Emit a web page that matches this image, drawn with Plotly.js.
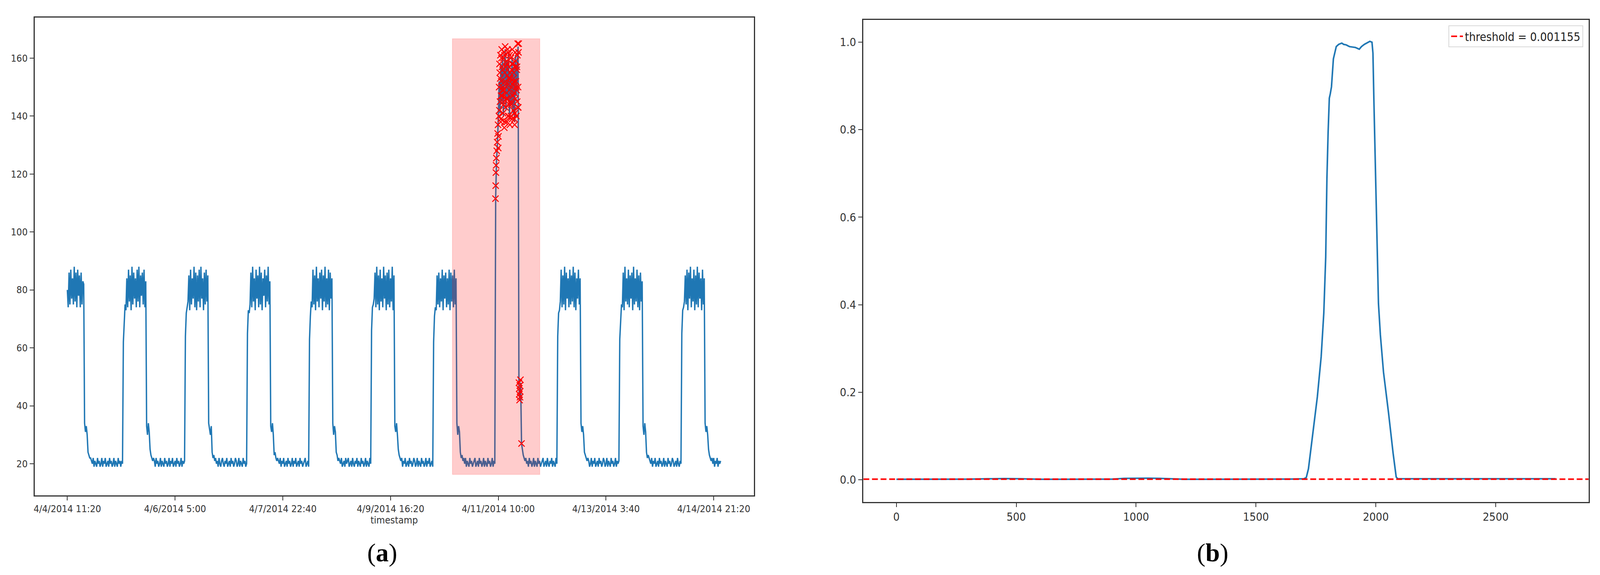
<!DOCTYPE html>
<html><head><meta charset="utf-8">
<script src="https://cdn.plot.ly/plotly-3.0.1.min.js"></script>
<style>html,body{margin:0;padding:0;background:#fff;overflow:hidden}</style>
</head><body><div id="chart"></div>
<script>
// ---------- panel (a): CPU series (one reading every 4th 5-minute record) ----------
const tickLabels = ["4/4/2014 11:20","4/6/2014 5:00","4/7/2014 22:40","4/9/2014 16:20","4/11/2014 10:00","4/13/2014 3:40","4/14/2014 21:20"];
const tickPositions = [0,500,1000,1500,2000,2500,3000];
const sampleStep = 4;

const day0 = [80,74,86,75,87,77,84,75,88,76,86,74,87,78,85,74,86,75,83,82];
const day1 = [34,31,33,30, 24,23,22,22,21,
  20,22,19,21,20,19,22,20,21,19,20,22,
  19,21,20,22,19,20,21,19,22,20,21,19,
  20,22,19,21,20,19,22,20,21,19,21,20,
  62,70,
  75,73,84,74,87,76,85,73,88,75,86,77,84,74,87,76,88,74,85,78,86,75,87,74,83];
const day2 = [33,30,34,31, 25,23,22,21,22,
  21,19,22,20,21,19,20,22,19,21,20,19,
  22,20,21,19,20,22,19,21,20,22,19,20,
  21,19,22,20,21,19,20,22,19,21,20,21,
  64,72,
  74,76,85,73,87,75,84,77,88,74,86,73,85,76,87,74,88,77,84,73,86,75,87,76,85];
const day3 = [34,32,30,33, 24,22,23,21,22,
  20,21,19,22,20,19,21,22,20,19,21,20,
  22,19,20,21,19,22,20,21,19,20,22,21,
  19,20,22,19,21,20,19,22,20,21,19,20,
  65,73,
  72,75,86,74,88,76,84,73,87,77,85,74,88,75,86,73,84,78,87,74,85,76,88,75,83];
const day4 = [33,31,34,30, 23,24,22,21,22,
  21,20,22,19,21,20,22,19,20,21,19,22,
  20,21,19,20,22,19,21,20,22,19,20,21,
  19,22,20,21,19,20,21,22,19,20,21,19,
  63,71,
  76,74,87,75,85,73,88,76,84,74,86,77,87,73,85,76,88,74,84,75,87,73,86,77,84];
const day5 = [34,30,33,31, 24,23,21,22,21,
  20,22,19,20,21,19,22,20,21,22,19,20,
  21,19,22,20,19,21,20,22,19,21,20,19,
  22,20,21,19,20,22,19,21,20,19,22,20,
  66,74,
  75,77,86,74,88,75,85,73,87,76,84,74,88,77,85,73,86,75,87,74,84,76,88,73,85];
const day6 = [33,31,34,30, 25,23,22,21,22,
  19,21,20,22,19,20,21,19,22,20,21,19,
  20,22,21,19,20,22,19,21,20,19,22,20,
  21,19,20,22,19,21,20,22,19,20,21,19,
  62,71,
  74,73,85,75,86,74,84,76,87,73,85,77,86,74,84,75,87,73,86,76,85,74,87,75,84];
const day7 = [34,30,33,31, 24,22,23,21,22,
  20,22,19,21,20,19,22,20,21,19,20,21,
  22,19,20,21,19,22,20,21,19,20,22,19,
  21,20,19,22,20,21,19,20,22,19,21,20,
  112,125,
  130,139,152,141,158,145,161,140,156,163,142,159,146,162,139,155,144,160,141,157,138,161,147,158,164];
const day8 = [46,42,48,27, 25,23,22,21,22,
  20,21,19,22,20,21,19,20,22,19,21,20,
  19,22,20,21,19,20,21,22,19,20,21,19,
  22,20,19,21,20,22,19,21,20,19,22,20,
  64,72,
  73,76,87,74,85,75,88,73,86,77,84,74,87,75,85,76,88,74,86,73,84,77,87,75,84];
const day9 = [34,31,33,30, 24,23,22,21,22,
  21,19,20,22,19,21,20,22,19,20,21,19,
  22,20,21,19,20,22,21,19,20,22,19,21,
  20,19,22,20,21,19,20,22,19,21,20,21,
  63,70,
  75,74,86,73,88,76,84,75,87,74,85,77,86,73,88,75,84,76,87,74,85,73,86,76,83];
const day10 = [33,30,34,31, 24,22,23,22,21,
  20,22,19,21,20,22,19,20,21,19,22,20,
  21,19,20,22,19,21,20,19,22,20,21,19,
  20,22,21,19,20,21,19,22,20,19,21,20,
  65,73,
  74,76,85,75,87,73,86,77,88,74,84,76,87,73,85,75,88,74,86,77,84,73,87,75,84];
const tail = [34,31,33,30, 25,23,22,21,22, 20,22,19,21,20,22,19,21,20,21];

// detected anomalies (record index, value)
const anomIdx = [1987,1988,1989,1990,1991,1993,1995,1997,1999,2000,2001,2003,
  2004,2006,2008,2010,2012,2014,2016,2018,2020,2022,2024,2026,2028,2030,2032,2034,2036,2038,2040,2042,
  2044,2046,2048,2050,2052,2054,2056,2058,2060,2062,2064,2066,2068,2070,2072,2074,2076,2078,2080,2082,
  2084,2086,2088,2090,2092,2094,
  2005,2009,2013,2017,2021,2025,2029,2033,2037,2041,2045,2049,2053,2057,2061,2065,2069,2073,2077,2081,2085,2089,2093,
  2007,2011,2015,2019,2023,2027,2031,2035,2039,2043,2047,2051,2055,2059,2063,2067,2071,2075,2079,2083,2087,2091,2095,
  2096,2097,2098,2099,2100,2101,2102,2103,2108];
const anomVal = [111.5,116,120.5,123,125.5,128,131,134,137,129,133,140,
  150,158,145,161,139,152,163,147,156,141,160,149,136,155,164,143,151,159,138,154,
  146,162,140,157,149,137,153,160,144,156,139,151,158,142,155,148,137,157,146,152,
  140,156,145,165,150,162,
  142,153,147,157,150,144,161,152,146,158,140,153,161,145,150,163,147,152,141,159,149,161,143,
  155,138,160,149,145,162,138,157,148,163,151,144,155,140,158,147,153,139,162,150,157,143,165,
  48,44,46,42,47,43,45,49,27];

// highlighted anomaly window
const spanIdx = [1787, 2193];
const spanVal = [16.3, 166.7];

// ---------- panel (b): anomaly score ----------
const scoreIdx = [0,100,200,300,380,450,520,600,700,800,900,950,1000,1050,1100,1130,1200,1300,1400,1500,1600,1650,1700,
  1710,1719,1735,1756,1772,1783,1791,1796,1801,1806,1810,1815,1823,1835,1845,1858,1866,1876,1890,1904,1915,1931,1940,1952,1962,1975,1984,
  1988,1992,1998,2003,2011,2019,2032,2053,2072,2085,2092,2150,2250,2350,2450,2550,2650,2700,2750];
const scoreVal = [0.001,0.001,0.001,0.0012,0.002,0.0025,0.002,0.001,0.001,0.001,0.0012,0.003,0.0035,0.0035,0.003,0.0025,0.001,0.001,0.001,0.0012,0.0015,0.0015,0.002,
  0.005,0.025,0.096,0.189,0.281,0.381,0.509,0.688,0.794,0.872,0.882,0.898,0.962,0.990,0.995,0.998,0.995,0.994,0.990,0.989,0.988,0.984,0.990,0.995,0.998,1.002,1.000,
  0.975,0.866,0.723,0.581,0.403,0.331,0.246,0.153,0.061,0.006,0.002,0.002,0.002,0.0015,0.0015,0.0015,0.0015,0.002,0.002];
const threshold = 0.001155;

// ---------- build ----------
const series = [].concat(day0, day1, day2, day3, day4, day5, day6, day7, day8, day9, day10, tail);
const seriesIdx = series.map((v, i) => i * sampleStep);

const xRangeA = [-151.7, 3185.7], yRangeA = [9.1, 174.0];
const xRangeB = [-137.5, 2887.5], yRangeB = [-0.051, 1.051];

// the figure is laid out in reference proportions and fills the visible viewport
const REF_W = 4201, REF_H = 1473;
const W = document.documentElement.clientWidth || window.innerWidth || REF_W;
const H = document.documentElement.clientHeight || window.innerHeight || REF_H;
document.getElementById('chart').style.width = W + 'px';
document.getElementById('chart').style.height = H + 'px';

const blue = '#1f77b4';
const fontA = {family: 'DejaVu Sans Condensed, DejaVu Sans, sans-serif', size: 25, color: '#333'};
const fontB = {family: 'DejaVu Sans Condensed, DejaVu Sans, sans-serif', size: 29, color: '#333'};

const traces = [
  {x: seriesIdx, y: series, type: 'scatter', mode: 'lines', line: {color: blue, width: 3.5}, xaxis: 'x', yaxis: 'y', showlegend: false, hoverinfo: 'skip'},
  {x: [spanIdx[0], spanIdx[1], spanIdx[1], spanIdx[0], spanIdx[0]], y: [spanVal[0], spanVal[0], spanVal[1], spanVal[1], spanVal[0]],
   type: 'scatter', mode: 'lines', fill: 'toself', fillcolor: 'rgba(255,0,0,0.2)', line: {color: 'rgba(255,0,0,0.12)', width: 2},
   xaxis: 'x', yaxis: 'y', showlegend: false, hoverinfo: 'skip'},
  {x: anomIdx, y: anomVal, type: 'scatter', mode: 'markers',
   marker: {symbol: 'x-thin', size: 16, color: 'red', line: {color: 'red', width: 2.5}},
   xaxis: 'x', yaxis: 'y', showlegend: false, hoverinfo: 'skip'},
  {x: scoreIdx, y: scoreVal, type: 'scatter', mode: 'lines', line: {color: blue, width: 4},
   xaxis: 'x2', yaxis: 'y2', showlegend: false, hoverinfo: 'skip'},
  {x: xRangeB, y: [threshold, threshold], type: 'scatter', mode: 'lines', name: 'threshold = ' + threshold,
   line: {color: '#ff0000', width: 4, dash: '15px,7px'}, xaxis: 'x2', yaxis: 'y2', hoverinfo: 'skip'}
];

const axisCommon = {showgrid: false, zeroline: false, showline: true, mirror: true, linecolor: '#333', linewidth: 3,
  ticks: 'outside', ticklen: 10, tickwidth: 2, tickcolor: '#333'};

const layout = {
  width: W, height: H, margin: {l: 0, r: 0, t: 0, b: 0},
  paper_bgcolor: '#fff', plot_bgcolor: '#fff',
  xaxis: Object.assign({}, axisCommon, {domain: [91/REF_W, 1979/REF_W], range: xRangeA, anchor: 'y',
    tickmode: 'array', tickvals: tickPositions, ticktext: tickLabels, tickfont: fontA,
    title: {text: 'timestamp', font: fontA, standoff: 6}}),
  yaxis: Object.assign({}, axisCommon, {domain: [1 - 1269/REF_H, 1 - 45/REF_H], range: yRangeA, anchor: 'x',
    tickmode: 'array', tickvals: [20,40,60,80,100,120,140,160], tickfont: fontA}),
  xaxis2: Object.assign({}, axisCommon, {domain: [2267/REF_W, 4171/REF_W], range: xRangeB, anchor: 'y2',
    tickmode: 'linear', tick0: 0, dtick: 500, tickfont: fontB}),
  yaxis2: Object.assign({}, axisCommon, {domain: [1 - 1286/REF_H, 1 - 51/REF_H], range: yRangeB, anchor: 'x2',
    tickmode: 'linear', tick0: 0, dtick: 0.2, tickformat: '.1f', tickfont: fontB}),
  showlegend: true,
  legend: {x: 4157/REF_W, y: 1 - 65/REF_H, xanchor: 'right', yanchor: 'top', bgcolor: '#fff',
    bordercolor: '#d8d8d8', borderwidth: 2, font: {family: fontB.family, size: 30, color: '#222'}},
  annotations: [
    {text: '(<b>a</b>)', xref: 'paper', yref: 'paper', x: 1004/REF_W, y: 1 - 1416/REF_H, xanchor: 'center', yanchor: 'middle',
     showarrow: false, font: {family: 'Liberation Serif, serif', size: 66, color: '#000'}},
    {text: '(<b>b</b>)', xref: 'paper', yref: 'paper', x: 3184/REF_W, y: 1 - 1416/REF_H, xanchor: 'center', yanchor: 'middle',
     showarrow: false, font: {family: 'Liberation Serif, serif', size: 66, color: '#000'}}
  ]
};

Plotly.newPlot('chart', traces, layout, {staticPlot: true, displayModeBar: false});
</script>
</body></html>
